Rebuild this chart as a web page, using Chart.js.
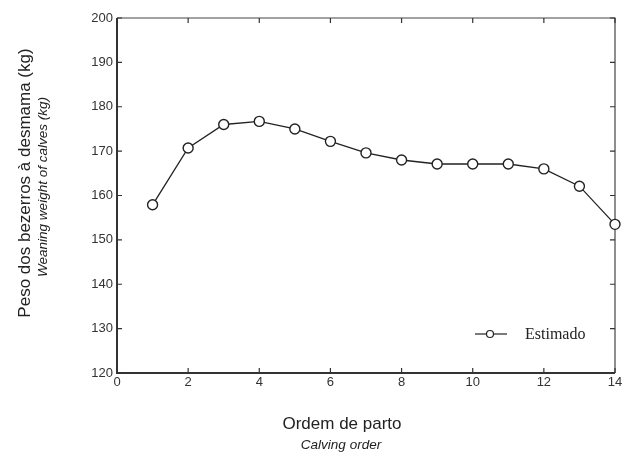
<!DOCTYPE html>
<html>
<head>
<meta charset="utf-8">
<script src="https://cdn.jsdelivr.net/npm/chart.js@4"></script>
<style>
  html, body { margin: 0; padding: 0; background: #fff; }
  #myChart { display: block; }
</style>
</head>
<body>
<canvas id="myChart" width="625" height="453"></canvas>
<script>
// valores
const calvingOrder = [1, 2, 3, 4, 5, 6, 7, 8, 9, 10, 11, 12, 13, 14];
const estimado = [157.9, 170.7, 176.0, 176.7, 175.0, 172.2, 169.6, 168.0, 167.1, 167.1, 167.1, 166.0, 162.1, 153.5];
const xTicks = [0, 2, 4, 6, 8, 10, 12, 14];
const yTicks = [120, 130, 140, 150, 160, 170, 180, 190, 200];

const yTitle = 'Peso dos bezerros à desmama (kg)';
const ySubTitle = 'Weaning weight of calves (kg)';
const xTitle = 'Ordem de parto';
const xSubTitle = 'Calving order';
const legendLabel = 'Estimado';

const ink = '#222';

// moldura com ticks para dentro, estilo matlab
const framePlugin = {
    id: 'frame',
    beforeDatasetsDraw(chart) {
        const ctx = chart.ctx;
        const a = chart.chartArea;
        const xs = chart.scales.x;
        const ys = chart.scales.y;
        ctx.save();
        ctx.strokeStyle = '#444';
        ctx.lineWidth = 1.2;
        ctx.beginPath();
        ctx.moveTo(a.left, a.top); ctx.lineTo(a.right, a.top); ctx.lineTo(a.right, a.bottom);
        ctx.stroke();
        ctx.strokeStyle = '#333';
        ctx.lineWidth = 2;
        ctx.beginPath();
        ctx.moveTo(a.left, a.top); ctx.lineTo(a.left, a.bottom); ctx.lineTo(a.right, a.bottom);
        ctx.stroke();
        ctx.lineWidth = 1.2;
        ctx.beginPath();
        xTicks.forEach(v => {
            const px = xs.getPixelForValue(v);
            ctx.moveTo(px, a.bottom); ctx.lineTo(px, a.bottom - 5);
            ctx.moveTo(px, a.top); ctx.lineTo(px, a.top + 5);
        });
        yTicks.forEach(v => {
            const py = ys.getPixelForValue(v);
            ctx.moveTo(a.left, py); ctx.lineTo(a.left + 5, py);
            ctx.moveTo(a.right, py); ctx.lineTo(a.right - 5, py);
        });
        ctx.stroke();
        ctx.restore();
    },
    afterDraw(chart) {
        const ctx = chart.ctx;
        ctx.save();
        ctx.fillStyle = ink;
        ctx.textAlign = 'center';
        ctx.textBaseline = 'middle';

        // titulos do eixo x
        ctx.font = '17px "Liberation Sans", Arial, sans-serif';
        ctx.fillText(xTitle, 342, 424);
        ctx.font = 'italic 13.5px "Liberation Sans", Arial, sans-serif';
        ctx.fillText(xSubTitle, 341, 445);

        // titulos do eixo y
        ctx.save();
        ctx.translate(25, 183);
        ctx.rotate(-Math.PI / 2);
        ctx.font = '17px "Liberation Sans", Arial, sans-serif';
        ctx.fillText(yTitle, 0, 0);
        ctx.restore();
        ctx.save();
        ctx.translate(43, 187);
        ctx.rotate(-Math.PI / 2);
        ctx.font = 'italic 13.5px "Liberation Sans", Arial, sans-serif';
        ctx.fillText(ySubTitle, 0, 0);
        ctx.restore();

        // legenda
        ctx.strokeStyle = ink;
        ctx.lineWidth = 1.2;
        ctx.beginPath();
        ctx.moveTo(475, 334); ctx.lineTo(507, 334);
        ctx.stroke();
        ctx.beginPath();
        ctx.arc(490, 334, 3.5, 0, Math.PI * 2);
        ctx.fillStyle = '#fff';
        ctx.fill();
        ctx.stroke();
        ctx.fillStyle = ink;
        ctx.textAlign = 'left';
        ctx.font = '16px "Liberation Serif", "Times New Roman", serif';
        ctx.fillText(legendLabel, 525, 335);
        ctx.restore();
    }
};

const ctx = document.getElementById('myChart').getContext('2d');

const myChart = new Chart(ctx, {
    type: 'line',
    data: {
        datasets: [{
            label: legendLabel,
            data: calvingOrder.map((x, i) => ({ x: x, y: estimado[i] })),
            borderColor: ink,
            borderWidth: 1.3,
            pointRadius: 5,
            pointBorderWidth: 1.4,
            pointBackgroundColor: '#fff',
            pointBorderColor: ink,
            tension: 0,
            clip: false
        }]
    },
    options: {
        responsive: false,
        animation: false,
        layout: { padding: { left: 0, right: 10, top: 18, bottom: 0 } },
        plugins: {
            legend: { display: false },
            tooltip: { enabled: false }
        },
        scales: {
            x: {
                type: 'linear',
                min: 0,
                max: 14,
                afterFit: s => { s.height = 80; },
                afterBuildTicks: s => { s.ticks = xTicks.map(v => ({ value: v })); },
                grid: { display: false, drawTicks: false },
                border: { display: false },
                ticks: {
                    padding: 2,
                    color: '#333',
                    font: { family: '"Liberation Sans", Arial, sans-serif', size: 13 }
                }
            },
            y: {
                type: 'linear',
                min: 120,
                max: 200,
                afterFit: s => { s.width = 117; },
                afterBuildTicks: s => { s.ticks = yTicks.map(v => ({ value: v })); },
                grid: { display: false, drawTicks: false },
                border: { display: false },
                ticks: {
                    padding: 4,
                    color: '#333',
                    font: { family: '"Liberation Sans", Arial, sans-serif', size: 13 }
                }
            }
        }
    },
    plugins: [framePlugin]
});
</script>
</body>
</html>
